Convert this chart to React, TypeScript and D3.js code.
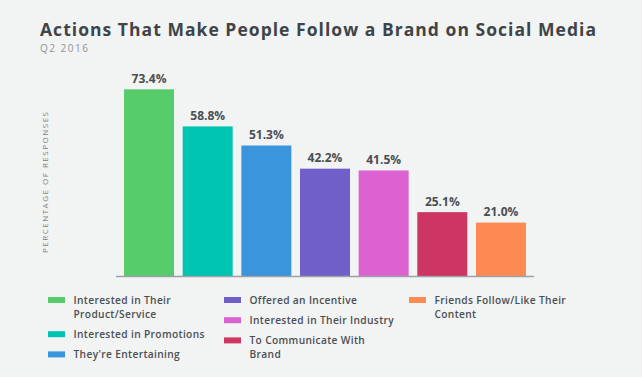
import React from "react";
import * as d3 from "d3";

const categories = [
  "Interested in Their Product/Service",
  "Interested in Promotions",
  "They're Entertaining",
  "Offered an Incentive",
  "Interested in Their Industry",
  "To Communicate With Brand",
  "Friends Follow/Like Their Content",
];
const values = [73.4, 58.8, 51.3, 42.2, 41.5, 25.1, 21.0];
const colors = ["#56cc6b", "#00c4b2", "#3a95dd", "#705fc9", "#dc62d1", "#cd3562", "#fc8a52"];
// legend: wrapped lines per item, and column index
const legendLines = [
  ["Interested in Their", "Product/Service"],
  ["Interested in Promotions"],
  ["They're Entertaining"],
  ["Offered an Incentive"],
  ["Interested in Their Industry"],
  ["To Communicate With", "Brand"],
  ["Friends Follow/Like Their", "Content"],
];
const legendColumns = [0, 0, 0, 1, 1, 1, 2];

const W = 642;
const H = 377;
const FONT = "'Open Sans', Lato, sans-serif";
const TEXT = "#4a4f53";

export default function App() {
  const x = d3
    .scaleBand<string>()
    .domain(categories)
    .range([119.7, 530.3])
    .paddingInner(8.67 / 58.67)
    .paddingOuter(0.074);
  const y = d3.scaleLinear().domain([0, 73.4]).range([276, 89.3]);

  const colX = [48, 224, 409];
  const lineH = 14;
  const itemGap = 6.2;
  const legendTop = 300;
  const colY: number[] = [legendTop, legendTop, legendTop];
  const legendItems = categories.map((c, i) => {
    const col = legendColumns[i];
    const yy = colY[col];
    colY[col] += legendLines[i].length * lineH + itemGap;
    return { c, i, col, yy };
  });

  return (
    <svg
      width={W}
      height={H}
      style={{ position: "absolute", left: 0, top: 0, display: "block" }}
      fontFamily={FONT}
    >
      <rect x={0} y={0} width={W} height={H} fill="#f2f3f3" />
      <text
        x={40}
        y={35.7}
        fontSize={17.5}
        fontWeight={700}
        fill="#3e4447"
        textLength={556}
        lengthAdjust="spacing"
      >
        Actions That Make People Follow a Brand on Social Media
      </text>
      <text x={40} y={52.3} fontSize={10} fill="#8e9397" textLength={48} lengthAdjust="spacing">
        Q2 2016
      </text>
      <text
        transform={`translate(48,182.5) rotate(-90)`}
        textAnchor="middle"
        fontSize={8}
        fill="#7d8388"
        textLength={141}
        lengthAdjust="spacing"
      >
        PERCENTAGE OF RESPONSES
      </text>
      {categories.map((c, i) => (
        <g key={c}>
          <rect
            x={x(c)!}
            y={y(values[i])}
            width={x.bandwidth()}
            height={y(0) - y(values[i])}
            fill={colors[i]}
          />
          <text
            x={x(c)! + x.bandwidth() / 2}
            y={y(values[i]) - 6.5}
            textAnchor="middle"
            fontSize={12}
            fontWeight={700}
            fill={TEXT}
          >
            {values[i].toFixed(1)}%
          </text>
        </g>
      ))}
      <line x1={116} x2={534} y1={276.5} y2={276.5} stroke="#9ba1a6" strokeWidth={1.5} />
      {legendItems.map(({ c, i, col, yy }) => (
        <g key={c}>
          <rect x={colX[col]} y={yy - 3} width={17} height={6} fill={colors[i]} />
          {legendLines[i].map((l, k) => (
            <text
              key={k}
              x={colX[col] + 25.5}
              y={yy + 3.7 + k * lineH}
              fontSize={10.2}
              letterSpacing={0.35}
              fontWeight={600}
              fill={TEXT}
            >
              {l}
            </text>
          ))}
        </g>
      ))}
    </svg>
  );
}
